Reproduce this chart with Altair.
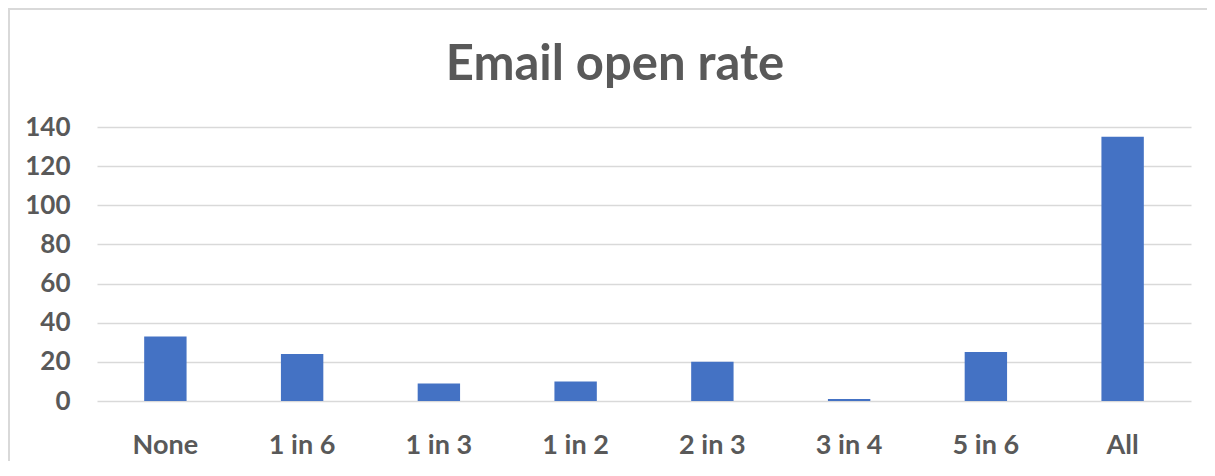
import altair as alt
import pandas as pd

categories = ["None", "1 in 6", "1 in 3", "1 in 2", "2 in 3", "3 in 4", "5 in 6", "All"]
values = [33, 24, 9, 10, 20, 1, 25, 135]
y_ticks = [0, 20, 40, 60, 80, 100, 120, 140]
title_text = "Email open rate"

df = pd.DataFrame({"category": categories, "value": values})

W, H = 1094, 274
PAD = {"left": 89, "top": 119, "right": 16, "bottom": 60}
TEXT = "#595959"
GRID = "#d9d9d9"
FONT = "Lato"

bars = alt.Chart(df).mark_bar(color="#4472C4").encode(
    x=alt.X(
        "category:N",
        sort=categories,
        scale=alt.Scale(paddingInner=0.69, paddingOuter=0.345),
        axis=alt.Axis(
            title=None, labelAngle=0, domain=False, ticks=False, tickSize=0,
            labelPadding=31, labelFontSize=27, labelFont=FONT,
            labelFontWeight="bold", labelColor=TEXT, grid=False,
        ),
    ),
    y=alt.Y(
        "value:Q",
        scale=alt.Scale(domain=[0, 140], nice=False),
        axis=alt.Axis(
            title=None, values=y_ticks, domain=False, ticks=False, tickSize=0,
            labelPadding=27, labelFontSize=26, labelFont=FONT,
            labelFontWeight="bold", labelColor=TEXT,
            grid=True, gridColor=GRID, gridWidth=1.6,
        ),
    ),
)

one_row = alt.Data(values=[{"t": title_text}])

title = alt.Chart(one_row).mark_text(
    font=FONT, fontSize=49, fontWeight="bold", color=TEXT,
    align="center", baseline="alphabetic",
).encode(
    text="t:N",
    x=alt.value(W / 2 - 29),
    y=alt.value(-PAD["top"] + 72),
)

top_border = alt.Chart(one_row).mark_rule(color=GRID, strokeWidth=2).encode(
    x=alt.value(-PAD["left"]), x2=alt.value(W + PAD["right"]),
    y=alt.value(-PAD["top"] + 1),
)
left_border = alt.Chart(one_row).mark_rule(color=GRID, strokeWidth=2).encode(
    x=alt.value(-PAD["left"] + 1),
    y=alt.value(-PAD["top"]), y2=alt.value(H + PAD["bottom"]),
)

chart = alt.layer(bars, title, top_border, left_border).properties(
    width=W,
    height=H,
    padding=PAD,
    autosize=alt.AutoSizeParams(type="none"),
).configure_view(stroke=None)

chart.save("out.html", embed_options={"renderer": "svg", "actions": False})
